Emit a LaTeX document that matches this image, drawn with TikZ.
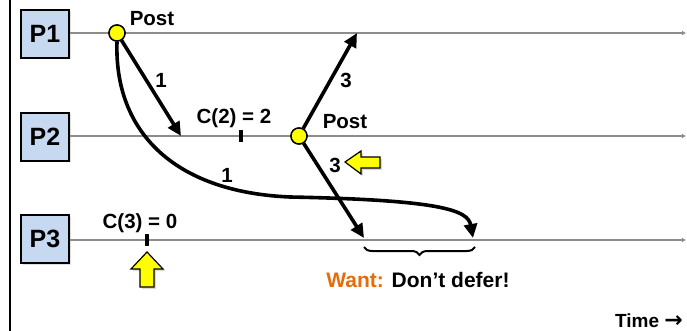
\documentclass[tikz,border=0pt]{standalone}
\usepackage{fontspec}
\setmainfont{Liberation Sans}
\newfontfamily\arrowfont{DejaVu Sans}
\usetikzlibrary{arrows.meta,decorations.pathreplacing,shadows}
\definecolor{boxblue}{RGB}{198,217,241}
\definecolor{tlgray}{RGB}{140,140,140}
\definecolor{wantorange}{RGB}{228,108,10}
\definecolor{arrowyellow}{RGB}{255,255,0}
\tikzset{
  procbox/.style={draw=black, line width=1.6pt, fill=boxblue, minimum width=48pt, minimum height=48pt,
    inner sep=0pt, font=\bfseries\fontsize{25}{25}\selectfont,
    drop shadow={opacity=0.25, shadow xshift=1.5pt, shadow yshift=-1.5pt}},
  timeline/.style={draw=tlgray, line width=1.6pt, -{Latex[length=4pt,width=5pt]}},
  postdot/.style={circle, draw=black, line width=1.4pt, fill=arrowyellow, minimum size=16pt, inner sep=0pt},
  msg/.style={draw=black, line width=3.6pt, -{Triangle[length=14pt,width=13pt]}},
  lbl/.style={font=\bfseries\fontsize{20.5}{20.5}\selectfont, inner sep=0pt},
  tickmark/.style={fill=black, minimum width=3.5pt, minimum height=12pt, inner sep=0pt},
  yarrow/.style={fill=arrowyellow, draw=black, line width=1.2pt, line join=miter,
    drop shadow={opacity=0.3, shadow xshift=2pt, shadow yshift=-2pt}},
}
\begin{document}
\begin{tikzpicture}[x=1pt,y=-1pt]
\useasboundingbox (0,0) rectangle (687,331);
% left border
\draw[line width=2pt] (10,0) -- (10,331);
% processes
\node[procbox] (P1) at (45,34) {P1};
\node[procbox] (P2) at (45,137) {P2};
\node[procbox] (P3) at (45,239) {P3};
\coordinate (E1) at (686,33);
\coordinate (E2) at (686,136);
\coordinate (E3) at (686,240);
\draw[timeline] (P1.east |- E1) -- (E1);
\draw[timeline] (P2.east |- E2) -- (E2);
\draw[timeline] (P3.east |- E3) -- (E3);
% ticks
\node[tickmark] (t2) at (241,136) {};
\node[tickmark] (t3) at (147,240) {};
\node[lbl] (c2) at (234,118) {C(2) = 2};
\node[lbl] (c3) at (140,223) {C(3) = 0};
% messages
\coordinate (a1) at (181,136);
\coordinate (a3up) at (357,33);
\coordinate (a3down) at (364,238);
\coordinate (a1far) at (473,238);
\node[postdot] (post1) at (117,33) {};
\node[postdot] (post2) at (299,136) {};
\draw[msg] (post1) -- (a1);
\draw[msg] (post2) -- (a3up);
\draw[msg] (post2) -- (a3down);
\draw[msg] (post1.south) .. controls (114,130) and (172,192) .. (290,197)
  .. controls (440,200) and (468,210) .. (a1far);
\node[postdot] at (post1) {};
\node[postdot] at (post2) {};
% labels
\node[lbl] (pl1) at (152,19) {Post};
\node[lbl] (pl2) at (345,122) {Post};
\node[lbl] (n1a) at (161,80) {1};
\node[lbl] (n1b) at (227,175) {1};
\node[lbl] (n3a) at (346,80) {3};
\node[lbl] (n3b) at (335,165) {3};
% yellow arrows
\draw[yarrow] (345,162) -- (361,151) -- (361,157) -- (380,157) -- (380,168) -- (361,168) -- (361,174) -- cycle;
\draw[yarrow] (147,252) -- (163,269) -- (154,269) -- (154,287) -- (140,287) -- (140,269) -- (131,269) -- cycle;
% brace
\coordinate (b1) at (364,247);
\coordinate (b2) at (475,247);
\draw[line width=2pt, decorate, decoration={brace, mirror, amplitude=8pt}] (b1) -- (b2);
\node[lbl, font=\bfseries\fontsize{21}{21}\selectfont] (want) at (418,280) {\textcolor{wantorange}{Want:} Don’t defer!};
\node[lbl, font=\bfseries\fontsize{19}{19}\selectfont, anchor=base east] (time) at (683,327) {Time {\arrowfont\bfseries\fontsize{22}{22}\selectfont →}};
\end{tikzpicture}
\end{document}
